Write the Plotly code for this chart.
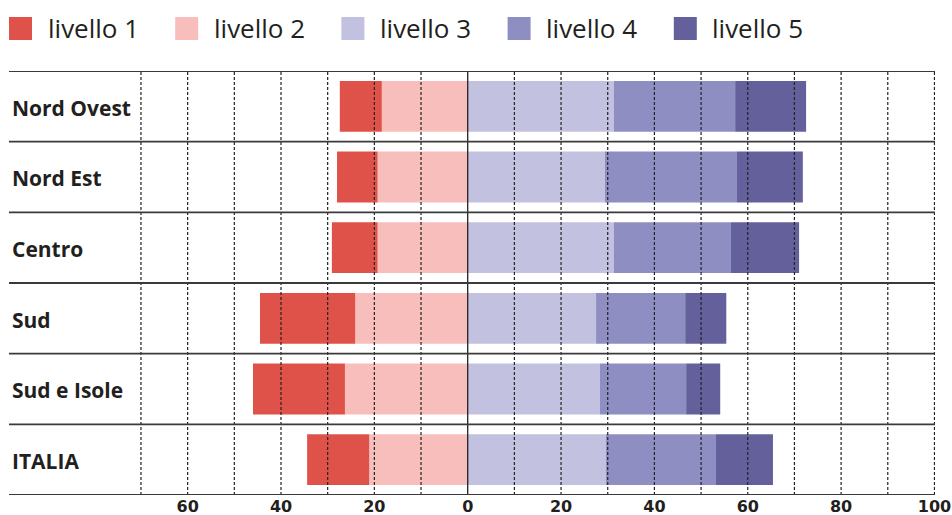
import plotly.graph_objects as go

regions = ["Nord Ovest", "Nord Est", "Centro", "Sud", "Sud e Isole", "ITALIA"]
series_names = ["livello 1", "livello 2", "livello 3", "livello 4", "livello 5"]
livello_1 = [9.0, 8.7, 9.8, 20.4, 19.7, 13.3]
livello_2 = [18.4, 19.3, 19.3, 24.1, 26.3, 21.1]
livello_3 = [31.3, 29.4, 31.3, 27.5, 28.3, 29.6]
livello_4 = [26.0, 28.3, 25.1, 19.1, 18.5, 23.6]
livello_5 = [15.2, 14.1, 14.6, 8.8, 7.3, 12.2]
tick_vals = [-60, -40, -20, 0, 20, 40, 60, 80, 100]
tick_text = ["60", "40", "20", "0", "20", "40", "60", "80", "100"]
grid_vals = [-70, -60, -50, -40, -30, -20, -10, 10, 20, 30, 40, 50, 60, 70, 80, 90, 100]

colors = ["#DF524A", "#F8BEBC", "#C2C1DF", "#8F8EC2", "#63609B"]
TXT = "#231F20"

W, H = 952, 515
ML, MR, MT, MB = 9, 17, 71, 20
PW, PH = W - ML - MR, H - MT - MB
ZERO_PX, PX_PER = 467.7, 4.6676
x_lo = -(ZERO_PX - ML) / PX_PER
x_hi = x_lo + PW / PX_PER

def px_to_paper_x(px):
    return (px - ML) / PW

def px_to_paper_y(py):
    return (H - MB - py) / PH

fig = go.Figure()
# negative side: livello 2 closest to zero, then livello 1
neg = [(1, livello_2), (0, livello_1)]
pos = [(2, livello_3), (3, livello_4), (4, livello_5)]
for idx, vals in neg:
    fig.add_trace(go.Bar(
        y=regions, x=[-v for v in vals], orientation="h", name=series_names[idx],
        marker=dict(color=colors[idx], line=dict(width=0)), showlegend=False,
        customdata=vals, hovertemplate="%{y}: %{customdata}%<extra>" + series_names[idx] + "</extra>",
    ))
for idx, vals in pos:
    fig.add_trace(go.Bar(
        y=regions, x=vals, orientation="h", name=series_names[idx],
        marker=dict(color=colors[idx], line=dict(width=0)), showlegend=False,
        hovertemplate="%{y}: %{x}%<extra>" + series_names[idx] + "</extra>",
    ))

shapes = []
# dotted vertical gridlines above bars
for g in grid_vals:
    shapes.append(dict(type="line", xref="x", yref="paper", x0=g, x1=g, y0=0, y1=1,
                       line=dict(color="#222222", width=1.2, dash="3px,2px"), layer="above"))
# zero line
shapes.append(dict(type="line", xref="x", yref="paper", x0=0, x1=0, y0=0, y1=1,
                   line=dict(color="#222222", width=1.3), layer="above"))
# row separators
for i in range(len(regions) + 1):
    shapes.append(dict(type="line", xref="paper", yref="y", x0=0, x1=1, y0=i - 0.5, y1=i - 0.5,
                       line=dict(color="#3a3a3a", width=1.8), layer="above"))

# manual legend
annotations = []
leg_x = [9, 175.2, 341.4, 507.6, 673.8]
sq = 23
sq_top = 17
for i, name in enumerate(series_names):
    x0 = leg_x[i]
    shapes.append(dict(type="rect", xref="paper", yref="paper",
                       x0=px_to_paper_x(x0), x1=px_to_paper_x(x0 + sq),
                       y0=px_to_paper_y(sq_top + sq), y1=px_to_paper_y(sq_top),
                       fillcolor=colors[i], line=dict(width=0)))
    annotations.append(dict(xref="paper", yref="paper", x=px_to_paper_x(x0 + 36.5),
                            y=px_to_paper_y(sq_top + sq / 2 - 0.5), text=name, showarrow=False,
                            xanchor="left", yanchor="middle",
                            font=dict(family="Open Sans", size=26, color=TXT)))

fig.update_layout(
    width=W, height=H, margin=dict(l=ML, r=MR, t=MT, b=MB, pad=0, autoexpand=False),
    paper_bgcolor="white", plot_bgcolor="white",
    barmode="relative", bargap=0.28,
    shapes=shapes, annotations=annotations, showlegend=False,
    xaxis=dict(range=[x_lo, x_hi], tickvals=tick_vals, ticktext=tick_text, showgrid=False,
               zeroline=False, showline=False, ticks="", fixedrange=True, automargin=False,
               tickfont=dict(family="DejaVu Sans", size=16, color=TXT, weight="bold")),
    yaxis=dict(type="category", categoryorder="array", categoryarray=regions,
               range=[len(regions) - 0.5, -0.5], showgrid=False, zeroline=False, showline=False,
               ticks="", ticklabelposition="inside", ticklabelstandoff=0, ticklabelshift=-2,
               fixedrange=True, automargin=False,
               tickfont=dict(family="Open Sans", size=21, color=TXT, weight="bold")),
)

fig.write_html(
    "out.html",
    config={"displayModeBar": False},
    post_script="document.body.style.margin='0';document.body.style.padding='0';document.body.style.overflow='hidden';",
)
